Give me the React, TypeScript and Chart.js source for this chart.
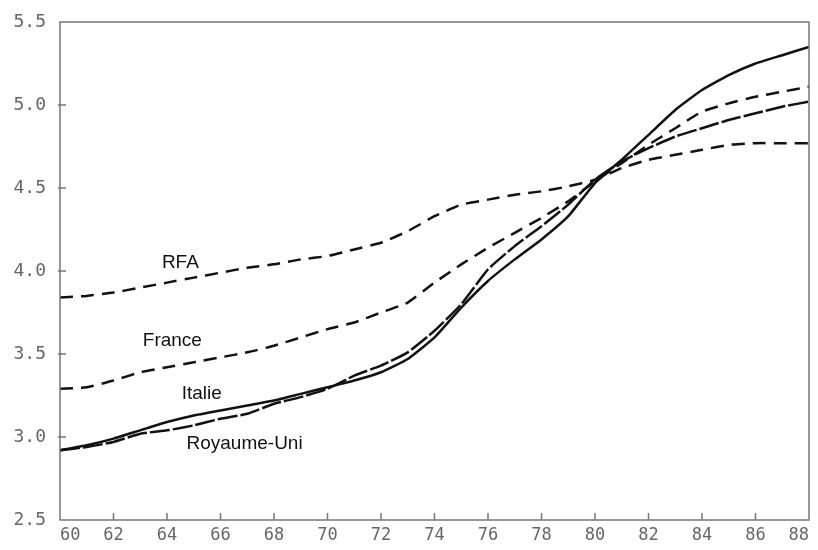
import React, { useEffect, useRef } from "react";
import { Chart, registerables } from "chart.js";

Chart.register(...registerables);

const years = [60, 61, 62, 63, 64, 65, 66, 67, 68, 69, 70, 71, 72, 73, 74, 75, 76, 77, 78, 79, 80, 81, 82, 83, 84, 85, 86, 87, 88];

const rfa = [3.84, 3.85, 3.87, 3.9, 3.93, 3.96, 3.99, 4.02, 4.04, 4.07, 4.09, 4.13, 4.17, 4.24, 4.33, 4.4, 4.43, 4.46, 4.48, 4.51, 4.55, 4.62, 4.67, 4.7, 4.73, 4.76, 4.77, 4.77, 4.77];
const france = [3.29, 3.3, 3.34, 3.39, 3.42, 3.45, 3.48, 3.51, 3.55, 3.6, 3.65, 3.69, 3.75, 3.81, 3.93, 4.04, 4.14, 4.23, 4.32, 4.42, 4.54, 4.65, 4.76, 4.86, 4.96, 5.01, 5.05, 5.08, 5.11];
const italie = [2.92, 2.95, 2.99, 3.04, 3.09, 3.13, 3.16, 3.19, 3.22, 3.26, 3.3, 3.34, 3.39, 3.47, 3.6, 3.78, 3.94, 4.07, 4.19, 4.33, 4.53, 4.67, 4.82, 4.97, 5.09, 5.18, 5.25, 5.3, 5.35];
const royaumeUni = [2.92, 2.94, 2.97, 3.02, 3.04, 3.07, 3.11, 3.14, 3.2, 3.24, 3.29, 3.37, 3.43, 3.51, 3.64, 3.8, 4.01, 4.15, 4.27, 4.4, 4.55, 4.66, 4.74, 4.81, 4.86, 4.91, 4.95, 4.99, 5.02];

const seriesNames = ["RFA", "France", "Italie", "Royaume-Uni"];
// label anchors in data coordinates (year, value)
const labelYears = [64.5, 64.2, 65.3, 66.9];
const labelValues = [4.05, 3.58, 3.26, 2.96];

const yTicks = [3.0, 3.5, 4.0, 4.5, 5.0];
const xTicks = [62, 64, 66, 68, 70, 72, 74, 76, 78, 80, 82, 84, 86];

const toPoints = (vals: number[]) => vals.map((v, i) => ({ x: years[i], y: v }));

const framePlugin = {
  id: "frameAndLabels",
  afterDraw(chart: any) {
    const { ctx, chartArea, scales } = chart;
    const { left, right, top, bottom } = chartArea;
    ctx.save();
    ctx.strokeStyle = "#777";
    ctx.lineWidth = 1.5;
    ctx.strokeRect(left, top, right - left, bottom - top);
    ctx.beginPath();
    yTicks.forEach((t) => {
      const y = scales.y.getPixelForValue(t);
      ctx.moveTo(left - 2, y);
      ctx.lineTo(left + 6, y);
    });
    xTicks.forEach((t) => {
      const x = scales.x.getPixelForValue(t);
      ctx.moveTo(x, bottom);
      ctx.lineTo(x, bottom - 7);
    });
    ctx.stroke();
    ctx.fillStyle = "#111";
    ctx.font = '19px "Liberation Sans", Arial, sans-serif';
    ctx.textAlign = "center";
    ctx.textBaseline = "middle";
    seriesNames.forEach((n, i) => {
      ctx.fillText(n, scales.x.getPixelForValue(labelYears[i]), scales.y.getPixelForValue(labelValues[i]));
    });
    ctx.restore();
  },
};

export default function App() {
  const ref = useRef<HTMLCanvasElement | null>(null);
  useEffect(() => {
    document.body.style.margin = "0";
    const canvas = ref.current;
    if (!canvas) return;
    const base = {
      borderColor: "#111",
      borderWidth: 2.5,
      pointRadius: 0,
      fill: false,
      tension: 0.15,
    };
    const chart = new Chart(canvas, {
      type: "line",
      data: {
        datasets: [
          { ...base, label: "RFA", data: toPoints(rfa), borderDash: [13, 8] },
          { ...base, label: "France", data: toPoints(france), borderDash: [13, 8] },
          { ...base, label: "Italie", data: toPoints(italie) },
          { ...base, label: "Royaume-Uni", data: toPoints(royaumeUni), borderDash: [20, 3] },
        ],
      },
      options: {
        animation: false,
        responsive: false,
        maintainAspectRatio: false,
        layout: { padding: { top: 22, right: 9, left: 0, bottom: 0 } },
        plugins: { legend: { display: false }, tooltip: { enabled: false } },
        scales: {
          x: {
            type: "linear",
            min: 60,
            max: 88,
            grid: { display: false },
            border: { display: false },
            ticks: {
              stepSize: 2,
              padding: -3,
              align: "inner",
              color: "#666",
              font: { family: '"DejaVu Sans Mono", monospace', size: 17 },
              maxRotation: 0,
              autoSkip: false,
            },
            afterFit: (s: any) => {
              s.height = 30;
              s.paddingLeft = 0;
              s.paddingRight = 0;
            },
          },
          y: {
            min: 2.5,
            max: 5.5,
            grid: { display: false },
            border: { display: false },
            ticks: {
              stepSize: 0.5,
              padding: 6,
              color: "#666",
              font: { family: '"DejaVu Sans Mono", monospace', size: 18 },
              callback: (v: any) => Number(v).toFixed(1),
            },
            afterFit: (s: any) => {
              s.width = 60;
              s.paddingTop = 0;
              s.paddingBottom = 0;
            },
          },
        },
      },
      plugins: [framePlugin],
    } as any);
    return () => chart.destroy();
  }, []);
  return (
    <div style={{ width: 818, height: 550 }}>
      <canvas ref={ref} width={818} height={550} />
    </div>
  );
}
